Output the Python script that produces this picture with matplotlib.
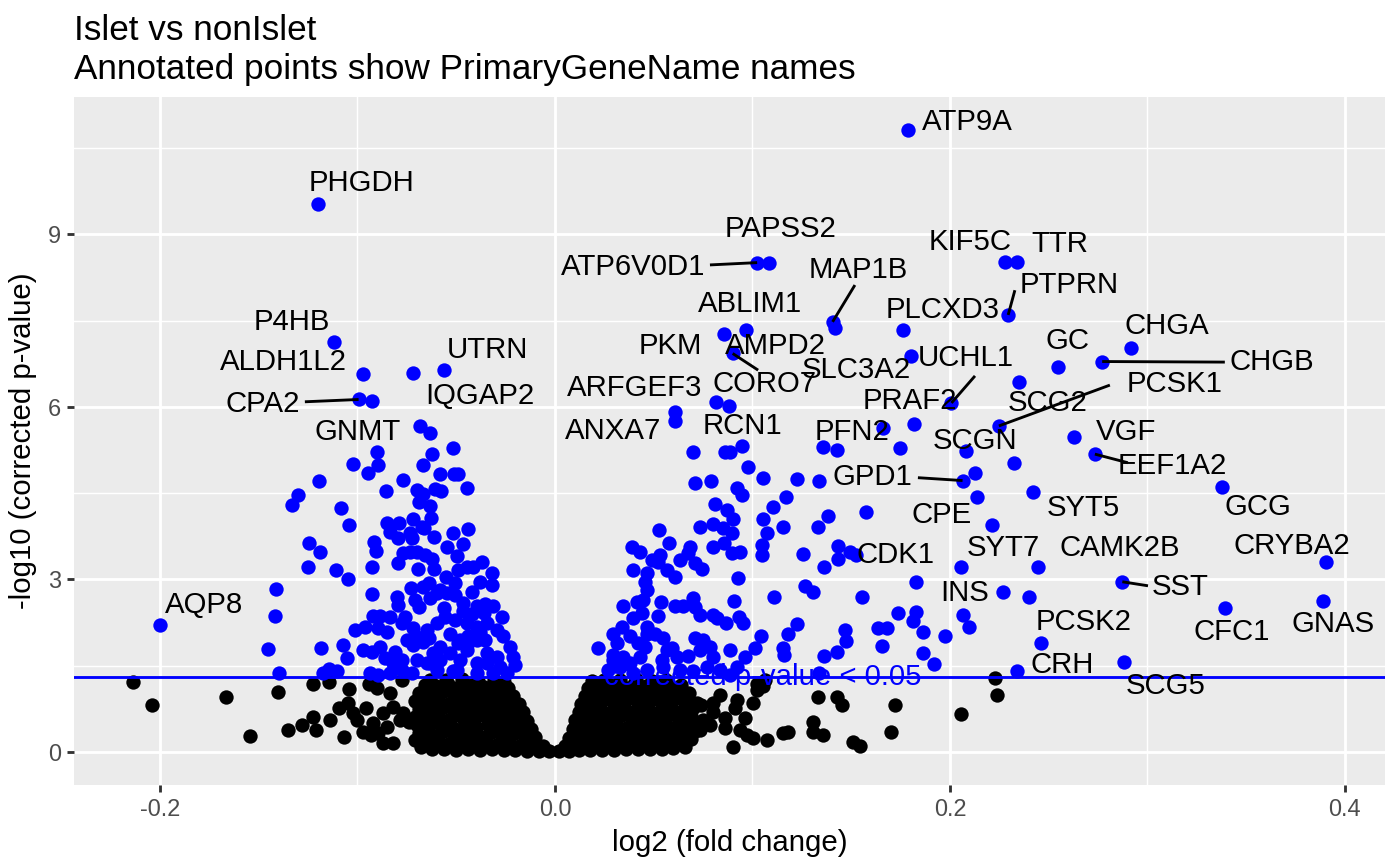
import matplotlib
matplotlib.use("Agg")
import matplotlib.pyplot as plt
from matplotlib.ticker import FixedLocator

plt.rcParams['font.family'] = ['Liberation Sans', 'DejaVu Sans']

# ---------------- data ----------------
title = "Islet vs nonIslet"
subtitle = "Annotated points show PrimaryGeneName names"
x_label = "log2 (fold change)"
y_label = "-log10 (corrected p-value)"
threshold = 1.30103
threshold_text = "corrected p-value < 0.05"
x_ticks = [-0.2, 0.0, 0.2, 0.4]
x_ticklabels = ["-0.2", "0.0", "0.2", "0.4"]
y_ticks = [0, 3, 6, 9]
y_ticklabels = ["0", "3", "6", "9"]

gene_names = ["ATP9A", "PHGDH", "PAPSS2", "ATP6V0D1", "KIF5C", "TTR", "MAP1B", "PTPRN",
              "PLCXD3", "ABLIM1", "PKM", "AMPD2", "CORO7", "SLC3A2", "UCHL1", "PRAF2",
              "GC", "CHGA", "CHGB", "PCSK1", "SCG2", "ARFGEF3", "ANXA7", "RCN1", "PFN2",
              "SCGN", "VGF", "EEF1A2", "GPD1", "CPE", "SYT5", "GCG", "CDK1", "SYT7",
              "CAMK2B", "CRYBA2", "SST", "INS", "CFC1", "GNAS", "PCSK2", "CRH", "SCG5",
              "AQP8", "P4HB", "ALDH1L2", "CPA2", "GNMT", "UTRN", "IQGAP2"]
gene_x = [0.1787, -0.1200, 0.1084, 0.1024, 0.2278, 0.2339, 0.1406, 0.2295,
          0.1764, 0.0967, 0.0856, 0.1418, 0.0900, 0.1801, 0.2008, 0.1820,
          0.2545, 0.2916, 0.2771, 0.2248, 0.2351, 0.0608, 0.0608, 0.0945, 0.1662,
          0.2080, 0.2626, 0.2734, 0.2064, 0.2127, 0.2422, 0.3376, 0.1575, 0.2056,
          0.2447, 0.3902, 0.2873, 0.2267, 0.3394, 0.3887, 0.2459, 0.2339, 0.2883,
          -0.1998, -0.1119, -0.0974, -0.0994, -0.0927, -0.0562, -0.0721]
gene_y = [10.82, 9.53, 8.51, 8.51, 8.52, 8.52, 7.48, 7.60,
          7.34, 7.34, 7.27, 7.38, 6.93, 6.88, 6.07, 5.70,
          6.70, 7.03, 6.79, 5.67, 6.44, 5.92, 5.76, 5.32, 5.63,
          5.24, 5.48, 5.18, 4.72, 4.85, 4.52, 4.60, 4.18, 3.21,
          3.21, 3.30, 2.96, 2.79, 2.50, 2.63, 1.89, 1.41, 1.57,
          2.20, 7.13, 6.57, 6.13, 6.11, 6.64, 6.59]

sig_left_x = [-0.0684, -0.0633, -0.0515, -0.0903, -0.0624, -0.1021, -0.0898, -0.0670, -0.0945, -0.0582,
              -0.0511, -0.0490, -0.1195, -0.0768, -0.0444, -0.0856, -0.0697, -0.0667, -0.0608, -0.0577,
              -0.1303, -0.1333, -0.0687, -0.0633, -0.1084, -0.0628, -0.1043, -0.0849, -0.0788, -0.0721,
              -0.0675, -0.0662, -0.0835, -0.0796, -0.0734, -0.0726, -0.0611, -0.0518, -0.0439, -0.0548,
              -0.0467, -0.0915, -0.0906, -0.0498, -0.0771, -0.0734, -0.0697, -0.0658, -0.0624, -0.0793,
              -0.0928, -0.1109, -0.1046, -0.0695, -0.0611, -0.0371, -0.0414, -0.0447, -0.0490, -0.0317,
              -0.0321, -0.0552, -0.0506, -0.0548, -0.0729, -0.0670, -0.0636, -0.0599, -0.0928, -0.0802,
              -0.0793, -0.0709, -0.0687, -0.0464, -0.0396, -0.0354, -0.0312, -0.0270, -0.0920, -0.0886,
              -0.0835, -0.0759, -0.1013, -0.0962, -0.0895, -0.0852, -0.0776, -0.0717, -0.0650, -0.0599,
              -0.0557, -0.0506, -0.0447, -0.0396, -0.0346, -0.0295, -0.0262, -0.1072, -0.1055, -0.1247,
              -0.1191, -0.1251, -0.1411, -0.1416, -0.1452, -0.1186, -0.1396, -0.1173, -0.1143, -0.1102,
              -0.0971, -0.0928, -0.0886, -0.0861, -0.0810, -0.0776, -0.0819, -0.0937, -0.0895, -0.0835,
              -0.0776, -0.0726, -0.0700, -0.0633, -0.0599, -0.0717, -0.0532, -0.0481, -0.0447, -0.0396,
              -0.0346, -0.0295, -0.0245, -0.0211, -0.0228, -0.0312, -0.0396, -0.0498, -0.0616, -0.0422,
              -0.0380, -0.0582, -0.0633, -0.0667, -0.0582, -0.0481, -0.0396, -0.0582, -0.0346, -0.0278,
              -0.0650, -0.0515, -0.0447, -0.0203, -0.0354, -0.0506, -0.0465, -0.0420, -0.0360, -0.0560,
              -0.0530, -0.0440, -0.0380, -0.0490, -0.0640, -0.0700, -0.0750]
sig_left_y = [5.67, 5.54, 5.29, 5.21, 5.18, 5.00, 4.99, 4.99, 4.85, 4.83,
              4.83, 4.83, 4.71, 4.73, 4.59, 4.54, 4.56, 4.49, 4.57, 4.53,
              4.47, 4.30, 4.34, 4.28, 4.24, 4.07, 3.95, 3.98, 3.99, 4.05,
              3.92, 3.89, 3.83, 3.72, 3.80, 3.72, 3.73, 3.81, 3.88, 3.57,
              3.61, 3.65, 3.50, 3.40, 3.46, 3.48, 3.47, 3.43, 3.36, 3.29,
              3.21, 3.17, 3.00, 3.18, 3.18, 3.31, 3.22, 3.21, 3.17, 3.11,
              2.90, 3.05, 2.93, 2.76, 2.85, 2.87, 2.93, 2.76, 2.75, 2.70,
              2.56, 2.64, 2.53, 2.59, 2.54, 2.57, 2.54, 2.35, 2.37, 2.37,
              2.35, 2.35, 2.12, 2.18, 2.15, 2.09, 2.24, 2.15, 2.12, 2.24,
              2.35, 2.30, 2.24, 2.18, 2.24, 2.12, 2.01, 1.86, 1.63, 3.64,
              3.48, 3.22, 2.84, 2.37, 1.79, 1.80, 1.38, 1.37, 1.44, 1.40,
              1.77, 1.74, 1.83, 1.63, 1.74, 1.60, 1.54, 1.37, 1.34, 1.37,
              1.43, 1.37, 1.60, 1.54, 1.43, 1.86, 1.72, 1.60, 1.77, 1.54,
              1.72, 1.66, 1.37, 1.66, 1.83, 1.37, 1.37, 1.43, 1.72, 2.79,
              2.96, 2.82, 2.67, 1.92, 1.83, 1.95, 1.95, 1.60, 1.54, 1.48,
              1.54, 1.40, 1.86, 1.51, 1.95, 2.73, 2.45, 2.40, 2.42, 2.50,
              2.05, 2.02, 2.08, 1.90, 1.98, 2.00, 1.95]

sig_right_x = [0.0815, 0.0883, 0.0700, 0.0861, 0.0886, 0.1359, 0.1426, 0.1747,
               0.0979, 0.1055, 0.1227, 0.0709, 0.0788, 0.0920, 0.0945, 0.1168, 0.0810, 0.0869,
               0.0903, 0.1102, 0.1055, 0.0528, 0.0579, 0.0734, 0.0802, 0.0852, 0.0895, 0.1072,
               0.1156, 0.0798, 0.0857, 0.0895, 0.0937, 0.1051, 0.1051, 0.1257,
               0.0388, 0.0430, 0.0490, 0.0532, 0.0523, 0.0397, 0.0464, 0.0456, 0.0464, 0.0447,
               0.0566, 0.0608, 0.0633, 0.0684, 0.0675, 0.0709, 0.0743, 0.0925, 0.1111, 0.1266,
               0.0346, 0.0414, 0.0537, 0.0608, 0.0650, 0.0697, 0.0709, 0.0523,
               0.0734, 0.0802, 0.0819, 0.0866, 0.0906, 0.0933, 0.0953,
               0.0397, 0.0439, 0.0464,
               0.1227, 0.1181, 0.1046, 0.1013, 0.0962, 0.1156, 0.1159, 0.0889,
               0.0295, 0.0312, 0.0338, 0.0380, 0.0422, 0.0464, 0.0456, 0.0430,
               0.0219, 0.0295, 0.0346, 0.0380, 0.0329, 0.0295,
               0.0506, 0.0548, 0.0566, 0.0591, 0.0540, 0.0616, 0.0675,
               0.0709, 0.0751, 0.0734, 0.0785, 0.0802, 0.0768, 0.0920,
               0.0397, 0.0464, 0.0548, 0.0633, 0.0700, 0.0835, 0.0886, 0.0268, 0.0304,
               0.2324, 0.1337, 0.2138, 0.1384, 0.1330, 0.2214, 0.1362, 0.1435, 0.1435, 0.1494,
               0.1524, 0.1828, 0.1305, 0.1553, 0.1468, 0.1473, 0.1637, 0.1679, 0.1654, 0.1738,
               0.1828, 0.1811, 0.1865, 0.1975, 0.1862, 0.1920, 0.2067, 0.2096, 0.1364, 0.1426,
               0.1338, 0.2402]
sig_right_y = [6.09, 6.01, 5.22, 5.22, 5.22, 5.31, 5.25, 5.28,
               4.95, 4.76, 4.74, 4.68, 4.71, 4.59, 4.47, 4.44, 4.31, 4.21,
               4.06, 4.26, 4.05, 3.86, 3.64, 3.92, 3.97, 3.89, 3.80, 3.80,
               3.92, 3.57, 3.64, 3.46, 3.47, 3.60, 3.43, 3.44,
               3.57, 3.48, 3.34, 3.43, 3.31, 3.17, 3.11, 2.96, 2.82, 2.64,
               3.17, 3.05, 3.34, 3.57, 3.46, 3.28, 3.19, 3.02, 2.70, 2.88,
               2.54, 2.61, 2.61, 2.54, 2.54, 2.67, 2.53, 2.37,
               2.38, 2.38, 2.33, 2.25, 2.63, 2.34, 2.24,
               2.33, 2.41, 2.18,
               2.23, 2.06, 2.01, 1.81, 1.65, 1.80, 1.69, 1.77,
               2.06, 1.89, 2.18, 2.01, 1.89, 2.06, 1.83, 1.66,
               1.81, 1.69, 1.66, 1.54, 1.48, 1.60,
               2.06, 1.98, 1.77, 1.80, 1.60, 1.66, 1.67,
               1.98, 1.95, 1.77, 1.83, 1.66, 1.48, 1.48,
               1.37, 1.43, 1.48, 1.43, 1.40, 1.43, 1.34, 1.43, 1.55,
               5.02, 4.72, 4.43, 4.10, 3.91, 3.95, 3.21, 3.59, 3.35, 3.48,
               3.43, 2.96, 2.79, 2.69, 2.13, 1.93, 2.15, 2.15, 1.84, 2.42,
               2.44, 2.28, 2.08, 2.02, 1.73, 1.53, 2.39, 2.18, 1.67, 1.74,
               1.37, 2.69]

ns_outer_x = [-0.2135, -0.2042, -0.1666, -0.1544, -0.1401, -0.1350, -0.1283, -0.1224, -0.1210, -0.1224,
              -0.1146, -0.1041, -0.1139, -0.1092, -0.1046, -0.1067, -0.1004, -0.1021, -0.0957, -0.0971,
              -0.0933, -0.0940, -0.0869, -0.0819, -0.0903, -0.0835, -0.0776, -0.0852, -0.0819, -0.0785,
              -0.0768, -0.0869, -0.0920, -0.0895,
              0.1333, 0.1426, 0.1452, 0.1722, 0.2054, 0.2228, 0.2236, 0.1700, 0.1308, 0.1308,
              0.1359, 0.1511, 0.1544, 0.1156, 0.1181, 0.1072, 0.1021, 0.1055, 0.1004, 0.0920,
              0.0911, 0.0962, 0.0903, 0.0861, 0.0937, 0.0971, 0.1004, 0.0861, 0.0802, 0.0835,
              0.0751, 0.0734, 0.0717, 0.0802, 0.0785, 0.1021, 0.1063]
ns_outer_y = [1.21, 0.82, 0.96, 0.27, 1.05, 0.39, 0.47, 0.61, 0.39, 1.19,
              1.21, 1.09, 0.56, 0.76, 0.85, 0.26, 0.56, 0.67, 0.76, 0.35,
              0.30, 1.19, 0.15, 0.15, 1.11, 1.02, 1.25, 0.44, 0.79, 0.56,
              0.67, 0.67, 0.50, 0.33,
              0.96, 0.96, 0.82, 0.82, 0.66, 1.28, 0.99, 0.35, 0.53, 0.35,
              0.30, 0.18, 0.10, 0.33, 0.34, 0.21, 1.08, 1.14, 0.85, 0.90,
              0.76, 0.59, 0.09, 0.41, 0.38, 0.30, 0.24, 0.59, 0.85, 0.99,
              0.56, 0.38, 0.85, 0.70, 0.47, 1.19, 1.25]

ns_core_x = [-0.068, -0.062, -0.056, -0.050, -0.044, -0.038, -0.032, -0.026, -0.020, -0.014, -0.008, -0.003,
             0.002, 0.007, 0.012, 0.018, 0.024, 0.030, 0.036, 0.042, 0.048, 0.054, 0.060, 0.066,
             -0.071, -0.065, -0.059, -0.053, -0.047, -0.041, -0.035, -0.029, -0.023, -0.017, -0.011, -0.006,
             0.005, 0.010, 0.015, 0.021, 0.027, 0.033, 0.039, 0.045, 0.051, 0.057, 0.063, 0.069,
             -0.069, -0.063, -0.057, -0.051, -0.045, -0.039, -0.033, -0.027, -0.021, -0.015, -0.010,
             0.007, 0.011, 0.017, 0.023, 0.029, 0.035, 0.041, 0.047, 0.053, 0.059, 0.065, 0.071,
             -0.070, -0.064, -0.058, -0.052, -0.046, -0.040, -0.034, -0.028, -0.022, -0.016, -0.012,
             0.009, 0.013, 0.019, 0.025, 0.031, 0.037, 0.043, 0.049, 0.055, 0.061, 0.067, 0.072,
             -0.071, -0.065, -0.059, -0.053, -0.047, -0.041, -0.035, -0.029, -0.023, -0.018, -0.014,
             0.010, 0.015, 0.021, 0.027, 0.033, 0.039, 0.045, 0.051, 0.057, 0.063, 0.069,
             -0.069, -0.063, -0.057, -0.051, -0.045, -0.039, -0.033, -0.027, -0.021, -0.016,
             0.012, 0.017, 0.023, 0.029, 0.035, 0.041, 0.047, 0.053, 0.059, 0.065, 0.070,
             -0.071, -0.065, -0.059, -0.053, -0.047, -0.041, -0.035, -0.029, -0.023, -0.018,
             0.013, 0.018, 0.024, 0.030, 0.036, 0.042, 0.048, 0.054, 0.060, 0.066,
             -0.069, -0.063, -0.057, -0.051, -0.045, -0.039, -0.033, -0.027, -0.021,
             0.015, 0.020, 0.026, 0.032, 0.038, 0.044, 0.050, 0.056, 0.062, 0.068,
             -0.066, -0.060, -0.054, -0.048, -0.042, -0.036, -0.030, -0.024,
             0.017, 0.022, 0.028, 0.034, 0.040, 0.046, 0.052, 0.058, 0.064,
             -0.063, -0.055, -0.047, -0.039, -0.031, -0.026,
             0.019, 0.025, 0.033, 0.041, 0.049, 0.056,
             -0.074, -0.060, -0.043, -0.030, 0.028, 0.044, 0.062, 0.074]
ns_core_y = [0.08, 0.05, 0.06, 0.04, 0.05, 0.03, 0.05, 0.03, 0.04, 0.02, 0.02, 0.01,
             0.01, 0.02, 0.03, 0.03, 0.04, 0.04, 0.05, 0.05, 0.06, 0.06, 0.07, 0.09,
             0.20, 0.17, 0.19, 0.16, 0.18, 0.15, 0.17, 0.14, 0.16, 0.13, 0.12, 0.10,
             0.10, 0.13, 0.15, 0.17, 0.15, 0.18, 0.16, 0.19, 0.17, 0.20, 0.18, 0.22,
             0.33, 0.31, 0.34, 0.30, 0.32, 0.29, 0.33, 0.30, 0.31, 0.28, 0.26,
             0.25, 0.29, 0.31, 0.28, 0.32, 0.30, 0.33, 0.31, 0.34, 0.30, 0.33, 0.36,
             0.47, 0.45, 0.48, 0.44, 0.46, 0.43, 0.47, 0.44, 0.45, 0.42, 0.40,
             0.40, 0.44, 0.46, 0.43, 0.47, 0.44, 0.48, 0.45, 0.47, 0.44, 0.48, 0.50,
             0.61, 0.59, 0.62, 0.58, 0.60, 0.57, 0.61, 0.58, 0.60, 0.56, 0.54,
             0.55, 0.59, 0.61, 0.58, 0.62, 0.59, 0.61, 0.58, 0.62, 0.59, 0.63,
             0.75, 0.73, 0.76, 0.72, 0.74, 0.71, 0.75, 0.72, 0.74, 0.70,
             0.69, 0.73, 0.75, 0.72, 0.76, 0.73, 0.75, 0.72, 0.76, 0.73, 0.77,
             0.89, 0.87, 0.90, 0.86, 0.88, 0.85, 0.89, 0.86, 0.88, 0.84,
             0.83, 0.87, 0.89, 0.86, 0.90, 0.87, 0.89, 0.86, 0.90, 0.87,
             1.03, 1.01, 1.04, 1.00, 1.02, 0.99, 1.03, 1.00, 0.98,
             0.97, 1.01, 1.03, 1.00, 1.04, 1.01, 1.03, 1.00, 1.04, 1.02,
             1.17, 1.15, 1.18, 1.14, 1.16, 1.13, 1.17, 1.12,
             1.11, 1.15, 1.17, 1.14, 1.18, 1.15, 1.17, 1.14, 1.16,
             1.26, 1.25, 1.27, 1.24, 1.26, 1.22,
             1.23, 1.26, 1.25, 1.27, 1.24, 1.26,
             0.52, 0.95, 0.66, 0.40, 0.52, 0.95, 0.28, 0.82]

# ---------------- label placement (repel layout) ----------------
label_pos = {
    "ATP9A": (0.2086, 10.96), "PHGDH": (-0.0977, 9.90), "PAPSS2": (0.1144, 9.10),
    "ATP6V0D1": (0.0395, 8.43), "KIF5C": (0.2101, 8.87), "TTR": (0.2557, 8.83),
    "MAP1B": (0.1534, 8.38), "PTPRN": (0.2603, 8.12), "PLCXD3": (0.1965, 7.69),
    "ABLIM1": (0.0987, 7.79), "PKM": (0.0582, 7.06), "AMPD2": (0.1119, 7.06),
    "CORO7": (0.1063, 6.40), "SLC3A2": (0.1524, 6.64), "UCHL1": (0.2081, 6.85),
    "PRAF2": (0.1797, 6.10), "GC": (0.2597, 7.15), "CHGA": (0.3099, 7.41),
    "CHGB": (0.3630, 6.78), "PCSK1": (0.3139, 6.40), "SCG2": (0.2496, 6.07),
    "ARFGEF3": (0.0405, 6.33), "ANXA7": (0.0294, 5.58), "RCN1": (0.0952, 5.67),
    "PFN2": (0.1504, 5.57), "SCGN": (0.2127, 5.41), "VGF": (0.2891, 5.57),
    "EEF1A2": (0.3124, 4.97), "GPD1": (0.1605, 4.78), "CPE": (0.1959, 4.12),
    "SYT5": (0.2678, 4.24), "GCG": (0.3559, 4.26), "CDK1": (0.1727, 3.43),
    "SYT7": (0.2268, 3.55), "CAMK2B": (0.2861, 3.55), "CRYBA2": (0.3732, 3.58),
    "SST": (0.3165, 2.87), "INS": (0.2076, 2.77), "CFC1": (0.3428, 2.09),
    "GNAS": (0.3939, 2.23), "PCSK2": (0.2678, 2.26), "CRH": (0.2567, 1.51),
    "SCG5": (0.3094, 1.15), "AQP8": (-0.1777, 2.56), "P4HB": (-0.1332, 7.48),
    "ALDH1L2": (-0.1377, 6.78), "CPA2": (-0.1478, 6.05), "GNMT": (-0.0997, 5.57),
    "UTRN": (-0.0344, 6.99), "IQGAP2": (-0.0380, 6.19),
}
segment_end = {
    "ATP6V0D1": (0.0785, 8.47), "MAP1B": (0.1519, 8.12), "PTPRN": (0.2329, 8.03),
    "CORO7": (0.1029, 6.64), "UCHL1": (0.2127, 6.54), "CHGB": (0.3392, 6.78),
    "PCSK1": (0.2810, 6.38), "EEF1A2": (0.2901, 5.03), "GPD1": (0.1838, 4.77),
    "SST": (0.3003, 2.89), "CPA2": (-0.1266, 6.09),
}

# ---------------- figure ----------------
W, H, DPI = 1400, 866, 192
fig = plt.figure(figsize=(W / DPI, H / DPI), dpi=DPI)
left, right, top, bottom = 74, 1385, 97, 785
ax = fig.add_axes([left / W, 1 - bottom / H, (right - left) / W, (bottom - top) / H])
ax.set_facecolor("#EBEBEB")
for s in ax.spines.values():
    s.set_visible(False)

ax.set_xlim(-0.2435, 0.4203)
ax.set_ylim(-0.574, 11.39)

ax.xaxis.set_major_locator(FixedLocator(x_ticks))
ax.xaxis.set_minor_locator(FixedLocator([-0.1, 0.1, 0.3]))
ax.yaxis.set_major_locator(FixedLocator(y_ticks))
ax.yaxis.set_minor_locator(FixedLocator([1.5, 4.5, 7.5, 10.5]))
ax.set_xticklabels(x_ticklabels)
ax.set_yticklabels(y_ticklabels)
ax.grid(which="major", color="white", linewidth=1.07)
ax.grid(which="minor", color="white", linewidth=0.53)
ax.set_axisbelow(True)
ax.tick_params(which="major", length=2.75, width=1.07, color="#333333",
               labelsize=8.8, labelcolor="#4D4D4D", pad=2.2)
ax.tick_params(which="minor", length=0)

pt = dict(s=29, linewidths=0, zorder=3)
ax.scatter(ns_core_x, ns_core_y, color="black", **pt)
ax.scatter(ns_outer_x, ns_outer_y, color="black", **pt)
ax.scatter(sig_left_x, sig_left_y, color="blue", **pt)
ax.scatter(sig_right_x, sig_right_y, color="blue", **pt)
ax.scatter(gene_x, gene_y, color="blue", **pt)

ax.axhline(threshold, color="blue", linewidth=1.07, zorder=4)
ax.text(0.1053, threshold, threshold_text, color="blue", fontsize=11,
        ha="center", va="center", zorder=5)

for name, gx, gy in zip(gene_names, gene_x, gene_y):
    if name in segment_end:
        ex, ey = segment_end[name]
        ax.plot([gx, ex], [gy, ey], color="black", linewidth=1.07, zorder=4,
                solid_capstyle="butt")
    lx, ly = label_pos[name]
    ax.text(lx, ly, name, fontsize=11, ha="center", va="center", color="black", zorder=6)

ax.set_xlabel(x_label, fontsize=11, labelpad=3)
ax.set_ylabel(y_label, fontsize=11, labelpad=4)

fig.text(left / W, 1 - 40 / H, title, fontsize=13.2, ha="left", va="baseline")
fig.text(left / W, 1 - 79 / H, subtitle, fontsize=13.2, ha="left", va="baseline")

fig.savefig("out.png", dpi=DPI)
